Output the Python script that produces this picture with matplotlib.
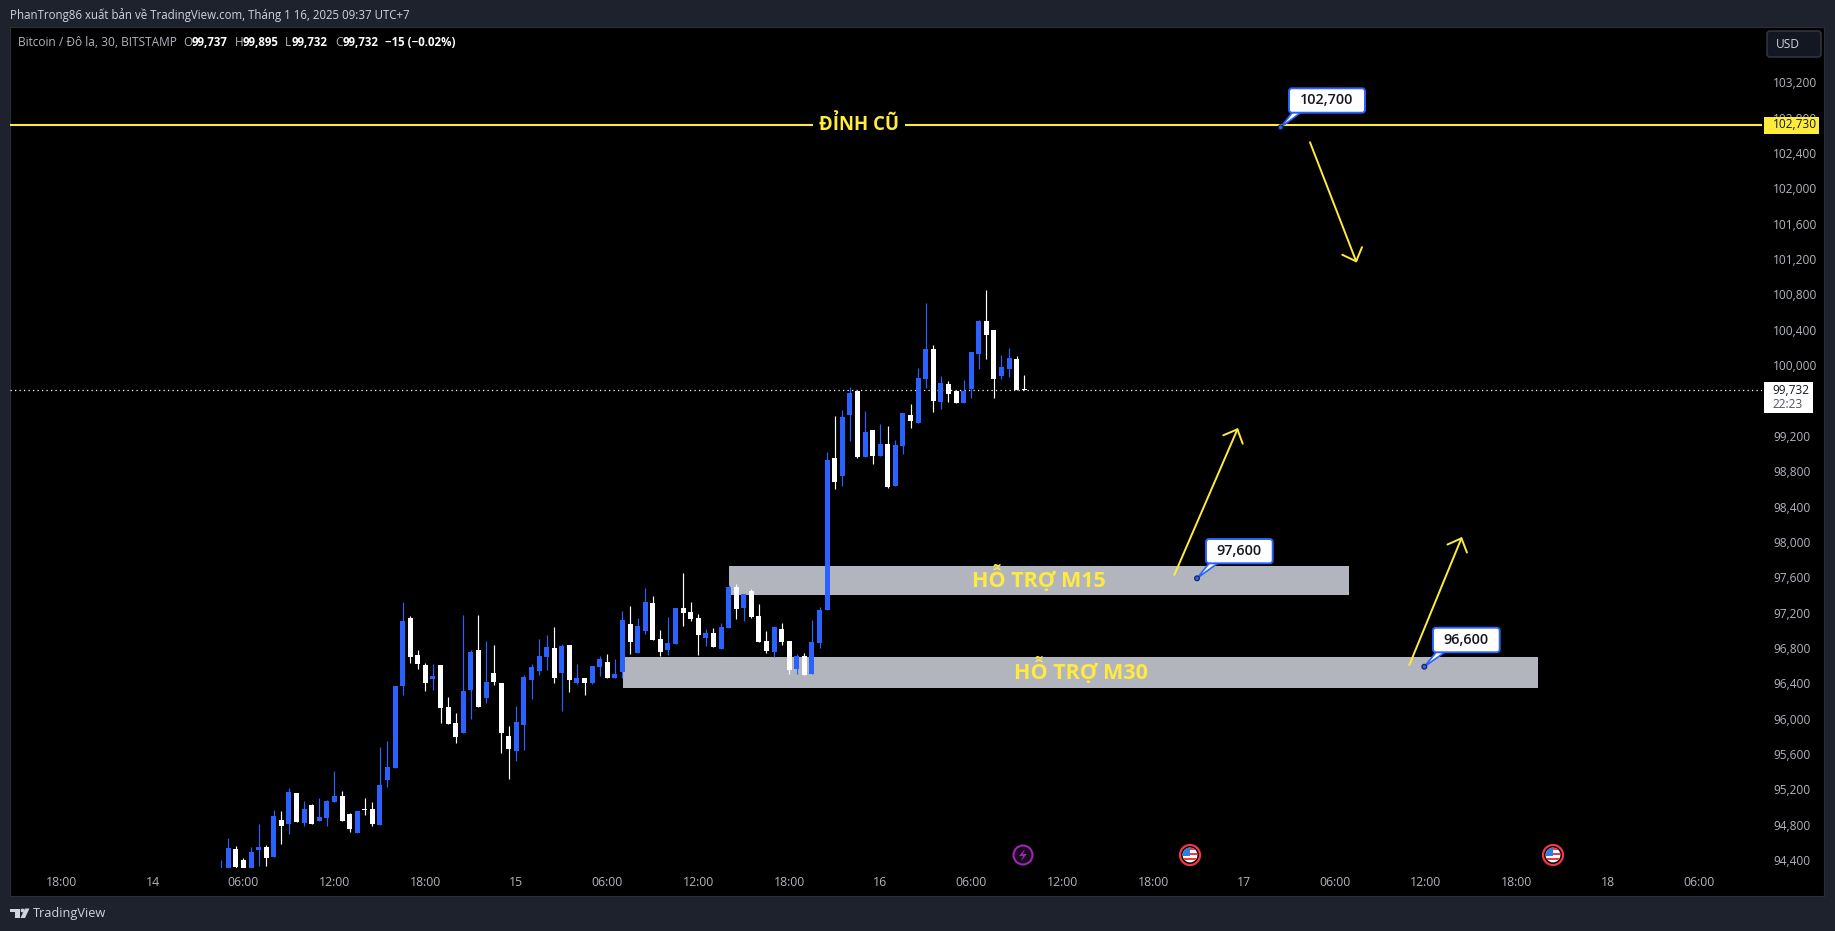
import numpy as np
from matplotlib import pyplot as plt
from matplotlib.patches import Circle, FancyBboxPatch, Polygon, Rectangle
from matplotlib.transforms import ScaledTranslation

W, H = 1835, 931
FONT = 'Open Sans'
BLUE = '#2962ff'
YELLOW = '#ffeb3b'
GRAY = '#b2b5be'
PAGE = '#1e222d'

opens = [94200, 94300, 94534, 94409, 94300, 94522, 94556, 94443, 94862, 94817,
         95167, 94828, 95032, 94851, 94884, 95066, 95133, 94930, 94715, 94986,
         94986, 94805, 95314, 95450, 96378, 97148, 96729, 96616, 96457, 96616,
         96141, 95959, 95846, 96333, 96785, 96242, 96525, 96412, 95812, 95642,
         95937, 96446, 96548, 96706, 96808, 96525, 96842, 96412, 96468, 96412,
         96593, 96649, 96468, 96536, 97079, 96751, 97000, 97317, 96910, 96785,
         96853, 97261, 97215, 97147, 96921, 96978, 96797, 97034, 97498, 97261,
         97453, 97170, 96887, 96763, 97023, 96887, 96570, 96717, 96514, 96864,
         97238, 98958, 98754, 99444, 99716, 98969, 99275, 98980, 99116, 98641,
         99094, 99444, 99354, 99852, 100191, 99592, 99795, 99716, 99580, 99739,
         100135, 100508, 100406, 99886, 99965, 100078, 99737]
highs = [94409, 94658, 94568, 94432, 94556, 94817, 94579, 94975, 94964, 95224,
         95167, 95077, 95043, 95111, 95088, 95416, 95190, 94941, 94964, 95111,
         95066, 95688, 95756, 96378, 97329, 97170, 96786, 96638, 96627, 96616,
         96254, 96073, 97182, 96785, 97182, 96887, 96842, 96412, 95925, 96152,
         96502, 96627, 96910, 96955, 97045, 96852, 96842, 96627, 96468, 96604,
         96717, 96740, 96683, 97227, 97283, 97147, 97487, 97396, 97012, 97159,
         97261, 97657, 97328, 97193, 97023, 97034, 97091, 97520, 97532, 97419,
         97475, 97306, 97000, 97057, 97091, 96887, 96740, 96751, 97125, 97272,
         99026, 99433, 99501, 99761, 99716, 99490, 99275, 99342, 99320, 99161,
         99467, 99569, 99976, 100712, 100236, 99886, 99829, 99716, 99840, 100157,
         100520, 100859, 100406, 100123, 100203, 100112, 99895]
lows = [94180, 94280, 94320, 94290, 94290, 94341, 94341, 94443, 94590, 94703,
        94839, 94794, 94817, 94851, 94794, 95066, 94851, 94726, 94715, 94918,
        94794, 94805, 95235, 95450, 96276, 96638, 96571, 96322, 96333, 95959,
        95948, 95733, 95846, 96005, 96141, 96186, 96390, 95620, 95325, 95529,
        95654, 96231, 96502, 96559, 96412, 96095, 96310, 96401, 96276, 96401,
        96491, 96468, 96468, 96468, 96740, 96751, 96966, 96898, 96717, 96729,
        96853, 97057, 97113, 96729, 96830, 96819, 96797, 97034, 97136, 97113,
        97147, 96876, 96751, 96706, 96842, 96514, 96514, 96502, 96514, 96808,
        97238, 98607, 98641, 99150, 98958, 98969, 98890, 98980, 98618, 98641,
        99003, 99297, 99354, 99750, 99478, 99512, 99592, 99580, 99580, 99637,
        99965, 100078, 99637, 99852, 99874, 99727, 99732]
closes = [94280, 94545, 94334, 94310, 94500, 94556, 94432, 94907, 94794, 95179,
          94839, 94986, 94817, 94896, 95077, 95133, 94851, 94760, 94964, 94975,
          94817, 95258, 95462, 96378, 97114, 96706, 96627, 96412, 96491, 96129,
          95948, 95801, 96322, 96763, 96141, 96423, 96423, 95846, 95665, 95970,
          96480, 96593, 96717, 96819, 96468, 96830, 96446, 96468, 96412, 96604,
          96683, 96468, 96514, 97125, 96876, 97057, 97328, 96898, 96763, 96864,
          97261, 97204, 97136, 96955, 96978, 96819, 97045, 97498, 97249, 97419,
          97159, 96876, 96774, 97045, 96876, 96559, 96717, 96502, 96876, 97238,
          98935, 98686, 99422, 99693, 98969, 99252, 98980, 99116, 98630, 99105,
          99467, 99376, 99863, 100191, 99603, 99806, 99682, 99580, 99716, 100157,
          100508, 100350, 99852, 99987, 100089, 99727, 99732]

price_ticks = list(range(94400, 103201, 400))
time_ticks = [-21, -9, 3, 15, 27, 39, 51, 63, 75, 87, 99, 111, 123, 135, 147,
              159, 171, 183, 195]
time_labels = ['18:00', '14', '06:00', '12:00', '18:00', '15', '06:00', '12:00',
               '18:00', '16', '06:00', '12:00', '18:00', '17', '06:00', '12:00',
               '18:00', '18', '06:00']

old_top = 102730
last_price = 99732
zones = [(67.05, 148.84, 97408, 97736, 'HỖ TRỢ M15'),
         (53.06, 173.8, 96355, 96706, 'HỖ TRỢ M30')]
arrows = [(143.7, 102530, 149.86, 101168),
          (125.8, 97634, 134.2, 99297),
          (156.8, 96615, 163.75, 98064)]


def add_callout(ov, text, dot, box):
    x0, y0, x1, y1 = box
    ov.add_patch(Polygon([dot, (x0 + 4, y1 - 1), (x0 + 13, y1 - 1)], fc='white', ec=BLUE, lw=1.2, zorder=5))
    ov.add_patch(FancyBboxPatch((x0 + 3, y0 + 3), x1 - x0 - 6, y1 - y0 - 6, boxstyle='round,pad=3',
                                fc='white', ec=BLUE, lw=1.4, zorder=6))
    ov.add_patch(Circle(dot, 2.4, fc=BLUE, ec='#10204a', lw=0.8, zorder=7))
    ov.text((x0 + x1) / 2, (y0 + y1) / 2 - 0.5, text, color='#131722', fontsize=10.4, fontweight='semibold',
            ha='center', va='center', family=FONT, zorder=7)


def add_flag(ov, cx, cy):
    ov.add_patch(Circle((cx, cy), 10, fc='#000000', ec='#f23645', lw=1.6, zorder=4))
    clip = Circle((cx, cy), 7.4, transform=ov.transData)
    items = [Rectangle((cx - 8, cy - 8), 16, 16, fc='white', lw=0)]
    for k in range(3):
        items.append(Rectangle((cx - 8, cy - 7.5 + k * 5), 16, 2.6, fc='#f23645', lw=0))
    items.append(Rectangle((cx - 8, cy - 8), 8, 8.5, fc='#2f7de1', lw=0))
    for item in items:
        ov.add_patch(item)
        item.set_zorder(5)
        item.set_clip_path(clip)


fig = plt.figure(figsize=(W / 100, H / 100), dpi=100, facecolor=PAGE)

bg = fig.add_axes([10 / W, 1 - 896 / H, (1824 - 10) / W, (896 - 27) / H], facecolor='black', zorder=0)
bg.set_xticks([])
bg.set_yticks([])
for spine in bg.spines.values():
    spine.set_color('#2a2e39')

ax = fig.add_axes([10 / W, 1 - 868 / H, (1762 - 10) / W, (868 - 27) / H], zorder=1)
ax.patch.set_alpha(0)
for spine in ax.spines.values():
    spine.set_visible(False)

idx = np.arange(len(opens))
o = np.array(opens)
c = np.array(closes)
colors = [BLUE if c[i] >= o[i] else 'white' for i in idx]

for left, right, low, high, label in zones:
    ax.add_patch(Rectangle((left, low), right - left, high - low, fc=GRAY, lw=0, zorder=1))
    ax.text((left + right) / 2, (low + high) / 2 + 20, label, color=YELLOW, fontsize=15.5, fontweight='bold',
            ha='center', va='center', family=FONT, zorder=4)

ax.axhline(last_price, color='white', lw=0.9, linestyle=(0, (1, 2.6)), zorder=2)
ax.vlines(idx, lows, highs, colors=colors, lw=0.85, zorder=3)
ax.bar(idx, c - o, bottom=o, width=0.66, color=colors, lw=0, zorder=3)

ax.axhline(old_top, color=YELLOW, lw=1.5, zorder=4)
ax.text(84.2, old_top, 'ĐỈNH CŨ', color=YELLOW, fontsize=13.4, fontweight='bold', ha='center', va='center',
        family=FONT, zorder=5, bbox=dict(fc='black', ec='none', pad=4.5))

for x0, y0, x1, y1 in arrows:
    ax.annotate('', xy=(x1, y1), xytext=(x0, y0), zorder=5,
                arrowprops=dict(arrowstyle='->,head_length=0.8,head_width=0.76', color=YELLOW, lw=1.4,
                                shrinkA=0, shrinkB=0, mutation_scale=10))

ax.set_xlim(-27.8, 203.33)
ax.set_ylim(94318.6, 103834)
ax.yaxis.tick_right()
ax.set_yticks(price_ticks)
ax.set_yticklabels([f'{p:,}' for p in price_ticks], family=FONT, fontsize=8.6, color=GRAY)
ax.set_xticks(time_ticks)
ax.set_xticklabels(time_labels, family=FONT, fontsize=8.8, color=GRAY)
ax.tick_params(axis='y', length=0, pad=8)
ax.tick_params(axis='x', length=0, pad=5.5)
for label in ax.get_yticklabels():
    label.set_transform(label.get_transform() + ScaledTranslation(0, 0.5 / 72, fig.dpi_scale_trans))

# everything around the chart, in image pixels
ov = fig.add_axes([0, 0, 1, 1], zorder=2)
ov.set_xlim(0, W)
ov.set_ylim(H, 0)
ov.axis('off')

ov.text(10, 15, 'PhanTrong86 xuất bản về TradingView.com, Tháng 1 16, 2025 09:37 UTC+7', color='#d1d4dc',
        fontsize=8.3, va='center', family=FONT)
ov.text(18, 42.5, 'Bitcoin / Đô la, 30, BITSTAMP', color=GRAY, fontsize=8.6, va='center', family=FONT)
for x, letter in [(183, 'O'), (235, 'H'), (285, 'L'), (335, 'C')]:
    ov.text(x, 42.5, letter, color=GRAY, fontsize=8.6, va='center', family=FONT)
for x, value in [(192, '99,737'), (243, '99,895'), (292, '99,732'), (343, '99,732'), (385, '−15 (−0.02%)')]:
    ov.text(x, 42.5, value, color='white', fontsize=8.3, fontweight='bold', va='center', family=FONT)

ov.add_patch(FancyBboxPatch((1770, 34), 48, 20, boxstyle='round,pad=3', fc='#131722', ec='#363a45', lw=1))
ov.text(1776, 44.5, 'USD', color='#d1d4dc', fontsize=8.6, va='center', family=FONT)

ov.add_patch(Rectangle((1764, 117), 55, 17, fc=YELLOW, lw=0, zorder=3))
ov.text(1773, 125, f'{old_top:,}', color='#131722', fontsize=8.6, va='center', family=FONT, zorder=4)
ov.add_patch(Rectangle((1764, 382), 49, 31, fc='white', lw=0, zorder=3))
ov.text(1772, 390, f'{last_price:,}', color='#131722', fontsize=8.6, va='center', family=FONT, zorder=4)
ov.text(1772, 404, '22:23', color='#50535e', fontsize=8.6, va='center', family=FONT, zorder=4)

add_callout(ov, '102,700', (1280.6, 127.3), (1289, 88.3, 1365, 112.7))
add_callout(ov, '97,600', (1197, 578.3), (1206, 539, 1272.7, 563.3))
add_callout(ov, '96,600', (1424.3, 666.7), (1433, 627.7, 1499.7, 652.3))

ov.add_patch(Circle((1023, 855), 9.5, fc='#1a0a20', ec='#9c27b0', lw=1.5, zorder=4))
ov.add_patch(Polygon([(1025, 849), (1019, 856), (1023, 856), (1021, 861), (1027, 854), (1023, 854)],
                     fc='#9c27b0', lw=0, zorder=5))
add_flag(ov, 1190, 855)
add_flag(ov, 1553, 855)

# TradingView logo
ov.add_patch(Polygon([(10, 908.5), (20, 908.5), (20, 918), (15, 918), (15, 912), (10, 912)], fc='#d1d4dc', lw=0))
ov.add_patch(Circle((22.5, 910.5), 1.9, fc='#d1d4dc', lw=0))
ov.add_patch(Polygon([(25, 908.5), (29.5, 908.5), (25, 918), (20.5, 918)], fc='#d1d4dc', lw=0))
ov.text(33, 913.5, 'TradingView', color='#d1d4dc', fontsize=9.2, va='center', family=FONT)

plt.savefig('out.png', dpi=100, facecolor=PAGE)
